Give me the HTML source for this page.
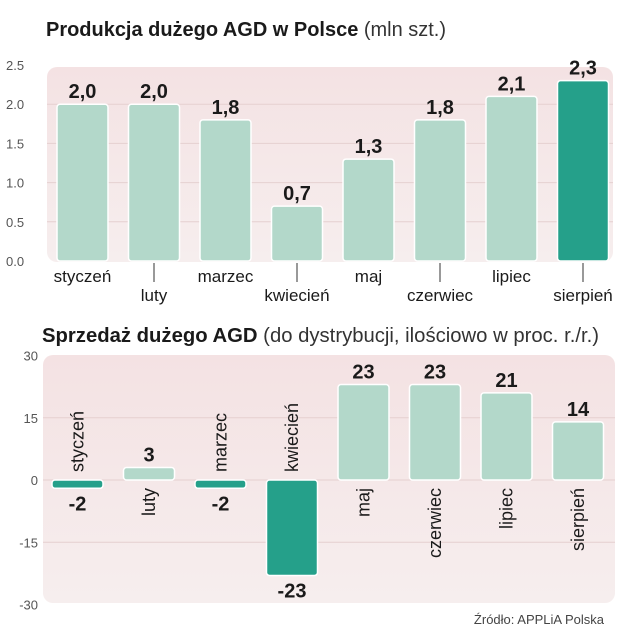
<!DOCTYPE html>
<html><head><meta charset="utf-8"><style>
html,body{margin:0;padding:0;background:#fff}
svg{display:block}
text{font-family:"Liberation Sans Narrow","Liberation Sans",sans-serif}
</style></head><body>
<svg id="c" width="639" height="640" viewBox="0 0 639 640">
<defs>
<linearGradient id="bg" x1="0" y1="0" x2="0" y2="1"><stop offset="0" stop-color="#f4e2e3"/><stop offset="1" stop-color="#f6eeee"/></linearGradient>
</defs>
<text x="46" y="36" font-size="20" font-weight="bold" fill="#1a1a1a" textLength="400" lengthAdjust="spacingAndGlyphs">Produkcja dużego AGD w Polsce <tspan font-weight="normal" fill="#333">(mln szt.)</tspan></text>
<rect x="47" y="67" width="566" height="195" rx="10" fill="url(#bg)"/>
<text x="42" y="342" font-size="20" font-weight="bold" fill="#1a1a1a" textLength="557" lengthAdjust="spacingAndGlyphs">Sprzedaż dużego AGD <tspan font-weight="normal" fill="#333">(do dystrybucji, ilościowo w proc. r./r.)</tspan></text>
<rect x="43" y="355" width="572" height="248" rx="10" fill="url(#bg)"/>
<text x="604" y="624" font-size="13" fill="#444" text-anchor="end">Źródło: APPLiA Polska</text>
<g id="top"></g><g id="bot"></g>
</svg>
<script>
const months=["styczeń","luty","marzec","kwiecień","maj","czerwiec","lipiec","sierpień"];
const production=[2.0,2.0,1.8,0.7,1.3,1.8,2.1,2.3];
const productionLabels=["2,0","2,0","1,8","0,7","1,3","1,8","2,1","2,3"];
const topTicks=[0,0.5,1,1.5,2,2.5];
const topTickLabels=["0.0","0.5","1.0","1.5","2.0","2.5"];
const sales=[-2,3,-2,-23,23,23,21,14];
const salesLabels=["-2","3","-2","-23","23","23","21","14"];
const botTicks=[30,15,0,-15,-30];
const botTickLabels=["30","15","0","-15","-30"];
const NS="http://www.w3.org/2000/svg";
function mk(p,t,a,txt){const e=document.createElementNS(NS,t);for(const k in a)e.setAttribute(k,a[k]);if(txt!==undefined)e.textContent=txt;p.appendChild(e);return e;}
const LIGHT="#b3d8ca",DARK="#25a08a";
const T=document.getElementById('top');
const yT=v=>261-v*78.4;
const xT=i=>57+i*71.5;
topTicks.forEach((v,i)=>{
 if(v>0&&v<2.5){const l=mk(T,'line',{x1:47,x2:613,y1:yT(v),y2:yT(v),stroke:'#e5d0d0','stroke-width':1});
 
 }
 const t=mk(T,'text',{x:6,y:yT(v)+5,'font-size':13,fill:'#555'},topTickLabels[i]);
 
 
});
production.forEach((v,i)=>{
 const x=xT(i),w=51;
 const r=mk(T,'rect',{x:x,y:yT(v),width:w,height:yT(0)-yT(v),rx:3,fill:i==7?DARK:LIGHT,stroke:'#fff','stroke-width':1.5});
 
 
 const t=mk(T,'text',{x:x+w/2,y:yT(v)-6,'font-size':20,'font-weight':'bold','text-anchor':'middle',fill:'#1a1a1a'},productionLabels[i]);
 
 
 const low=i%2==1;
 if(low){const tk=mk(T,'line',{x1:x+w/2,x2:x+w/2,y1:263,y2:282,stroke:'#333','stroke-width':1});
 
 }
 const m=mk(T,'text',{x:x+w/2,y:low?301:282,'font-size':17,'text-anchor':'middle',fill:'#1a1a1a'},months[i]);
 
 
});
const B=document.getElementById('bot');
const yB=v=>480-v*4.15;
const xB=i=>52+i*71.5;
botTicks.forEach((v,i)=>{
 if(v<30&&v>-30){const l=mk(B,'line',{x1:43,x2:615,y1:yB(v),y2:yB(v),stroke:'#e5d0d0','stroke-width':1});
 
 }
 const t=mk(B,'text',{x:38,y:yB(v)+5,'font-size':13,fill:'#555','text-anchor':'end'},botTickLabels[i]);
 
 
});
sales.forEach((v,i)=>{
 const x=xB(i),w=51;
 const y0=Math.min(yB(0),yB(v)),h=Math.max(Math.abs(yB(v)-yB(0)),5);
 const r=mk(B,'rect',{x:x,y:v<0?yB(0):y0,width:w,height:h,rx:3,fill:v<0?DARK:LIGHT,stroke:'#fff','stroke-width':1.5});
 
 
 const ly=v<0?Math.max(yB(v),yB(0)+5)+22:yB(v)-6;
 const t=mk(B,'text',{x:x+w/2,y:ly,'font-size':20,'font-weight':'bold','text-anchor':'middle',fill:'#1a1a1a'},salesLabels[i]);
 
 
 const cx=x+w/2+6,cy=v<0?yB(0)-8:yB(0)+8;
 const m=mk(B,'text',{x:cx,y:cy,'font-size':18,'text-anchor':v<0?'start':'end',fill:'#1a1a1a',transform:'rotate(-90 '+cx+' '+cy+')'},months[i]);
 
 
});
</script>
</body></html>
